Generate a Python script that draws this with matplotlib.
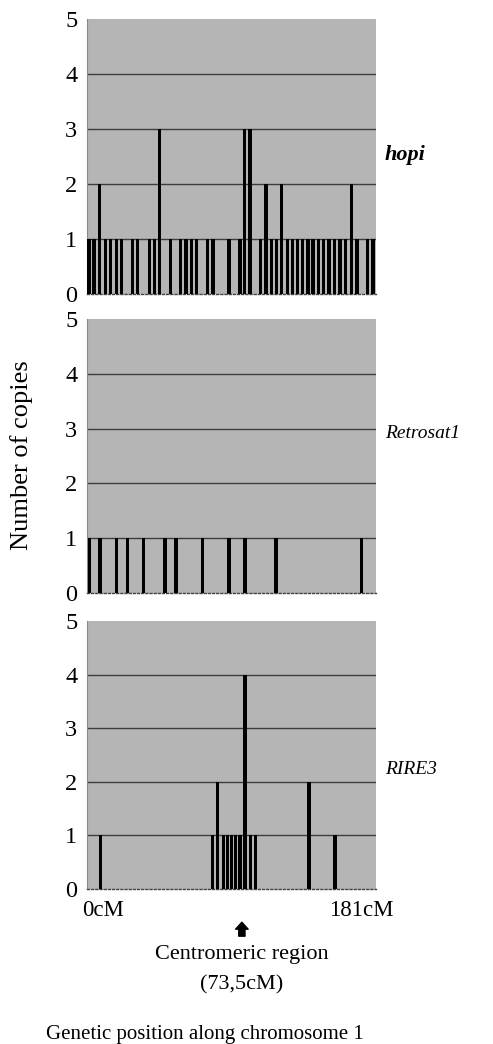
import numpy as np
import matplotlib
matplotlib.use('Agg')
import matplotlib.pyplot as plt

plt.rcParams['font.family'] = ['Liberation Serif', 'DejaVu Serif']

# positions along the drawn axis (0-181) and copy numbers
hopi_pos = [1.3, 4.4, 8.0, 11.7, 14.8, 18.4, 21.7, 28.6, 31.7, 39.0, 42.2, 45.3,
            52.4, 58.7, 62.0, 65.6, 68.7, 75.3, 78.9, 88.9, 95.8, 98.6, 102.1,
            108.7, 112.1, 115.7, 118.8, 121.8, 125.4, 128.7, 131.8, 135.0, 138.4,
            141.5, 144.9, 148.0, 151.6, 155.0, 158.5, 162.1, 165.8, 169.1, 175.7, 179.1]
hopi_copies = [1, 1, 2, 1, 1, 1, 1, 1, 1, 1, 1, 3,
               1, 1, 1, 1, 1, 1, 1, 1, 1, 3, 3,
               1, 2, 1, 1, 2, 1, 1, 1, 1, 1,
               1, 1, 1, 1, 1, 1, 1, 2, 1, 1, 1]

retro_pos = [1.4, 8.1, 18.6, 25.2, 35.3, 48.9, 55.7, 72.2, 88.9, 98.9, 118.4, 172.0]
retro_copies = [1] * len(retro_pos)

rire_pos = [8.6, 78.5, 81.9, 85.4, 88.1, 90.6, 93.1, 95.8, 98.9, 102.5, 105.7, 139.0, 155.3]
rire_copies = [1, 1, 2, 1, 1, 1, 1, 1, 4, 1, 1, 2, 1]

names = ['hopi', 'Retrosat1', 'RIRE3']
all_pos = [hopi_pos, retro_pos, rire_pos]
all_copies = [hopi_copies, retro_copies, rire_copies]

xmax = 181
centromere_x = 97       # where the arrow sits on the drawn axis
end_ticks = [10, 172]
end_labels = ['0cM', '181cM']

W, H = 493, 1044
fig = plt.figure(figsize=(W / 100, H / 100), dpi=100)

# panel boxes in pixels: (top, bottom)
boxes = [(19, 294), (319, 593), (621, 889)]
left_px, right_px = 87, 376
label_y = [155, 434, 770]
name_style = [dict(fontsize=16, weight='bold'), dict(fontsize=14), dict(fontsize=14)]

axes = []
for i, (top, bot) in enumerate(boxes):
    ax = fig.add_axes([left_px / W, 1 - bot / H, (right_px - left_px) / W, (bot - top) / H])
    ax.set_facecolor('#b5b5b5')
    ax.bar(all_pos[i], all_copies[i], width=2.0, color='black', align='center', zorder=3)
    ax.set_xlim(0, xmax)
    ax.set_ylim(0, 5)
    ax.set_yticks(range(6))
    ax.tick_params(axis='y', length=0, labelsize=17.5, pad=7)
    ax.set_axisbelow(True)
    for yv in range(1, 5):
        ax.axhline(yv, color='#3c3c3c', lw=1.0, zorder=1)
    for s in ['top', 'right']:
        ax.spines[s].set_visible(False)
    ax.spines['left'].set_color('#8a8a8a')
    ax.spines['left'].set_linewidth(0.8)
    ax.spines['bottom'].set_linestyle((0, (1.5, 1.5)))
    ax.spines['bottom'].set_color('#444444')
    ax.spines['bottom'].set_linewidth(1.0)
    if i < 2:
        ax.set_xticks([])
    else:
        ax.set_xticks(end_ticks)
        ax.set_xticklabels(end_labels)
        ax.tick_params(axis='x', length=0, labelsize=16.5, pad=8)
    fig.text(385 / W, 1 - label_y[i] / H, names[i], style='italic',
             ha='left', va='center', **name_style[i])
    axes.append(ax)

ax3 = axes[2]
ax3.annotate('', xy=(centromere_x, -0.62), xytext=(centromere_x, -0.88),
             xycoords='data', textcoords='data', annotation_clip=False,
             arrowprops=dict(arrowstyle='simple,head_width=0.9,head_length=0.5,tail_width=0.45',
                             color='black', shrinkA=0, shrinkB=0))

cx = (left_px + centromere_x / xmax * (right_px - left_px)) / W
fig.text(cx, 1 - 955 / H, 'Centromeric region', fontsize=16, ha='center', va='center')
fig.text(cx, 1 - 985 / H, '(73,5cM)', fontsize=16, ha='center', va='center')
fig.text(205 / W, 1 - 1035 / H, 'Genetic position along chromosome 1', fontsize=15,
         ha='center', va='center')
fig.text(22 / W, 1 - 455 / H, 'Number of copies', fontsize=19, rotation=90,
         ha='center', va='center')

fig.savefig('out.png', dpi=100, facecolor='white')
